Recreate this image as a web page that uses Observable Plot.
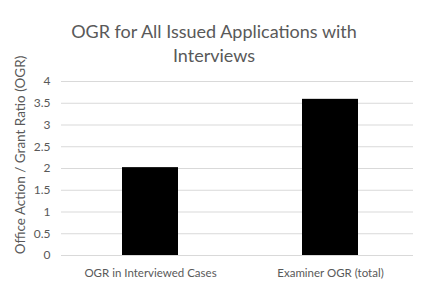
<!DOCTYPE html>
<html>
<head>
<meta charset="utf-8">
<script src="https://cdn.jsdelivr.net/npm/d3@7"></script>
<script src="https://cdn.jsdelivr.net/npm/@observablehq/plot@0.6"></script>
<style>
  html, body { margin: 0; padding: 0; background: #fff; }
  #wrap { position: relative; width: 428px; height: 300px; font-family: Lato, "Open Sans", sans-serif; }
  #title { position: absolute; left: 0; top: 19px; width: 428px; text-align: center; font-size: 18px; line-height: 24px; color: #595959; z-index: 2; }
  #title span { display: block; }
  #ylabel { position: absolute; left: 20px; top: 155px; transform: translate(-50%, -50%) rotate(-90deg); white-space: nowrap; font-size: 13.5px; color: #595959; z-index: 2; }
</style>
</head>
<body>
<div id="wrap">
  <div id="title"><span>OGR for All Issued Applications with</span><span>Interviews</span></div>
  <div id="ylabel">Office Action / Grant Ratio (OGR)</div>
</div>
<script>
const categories = ["OGR in Interviewed Cases", "Examiner OGR (total)"];
const values = [2.02, 3.59];
const yTicks = [0, 0.5, 1, 1.5, 2, 2.5, 3, 3.5, 4];

const data = categories.map((c, i) => ({category: c, value: values[i]}));

const chart = Plot.plot({
  width: 428,
  height: 300,
  marginTop: 81,
  marginBottom: 45,
  marginLeft: 61,
  marginRight: 15,
  style: {fontFamily: "Lato, 'Open Sans', sans-serif", color: "#595959", background: "transparent"},
  x: {domain: categories, paddingInner: 0.69, paddingOuter: 0.32, align: 0.528, label: null},
  y: {domain: [0, 4], label: null},
  marks: [
    Plot.gridY(yTicks, {stroke: "#d9d9d9", strokeOpacity: 1, strokeWidth: 1}),
    Plot.barY(data, {x: "category", y: "value", fill: "#000"}),
    Plot.axisY(yTicks, {tickSize: 0, tickPadding: 11, fontSize: 12, tickFormat: d => String(d), label: null}),
    Plot.axisX({tickSize: 0, tickPadding: 13, fontSize: 11.5, label: null})
  ]
});
chart.style.position = "absolute";
chart.style.left = "0";
chart.style.top = "0";
document.getElementById("wrap").appendChild(chart);
</script>
</body>
</html>
